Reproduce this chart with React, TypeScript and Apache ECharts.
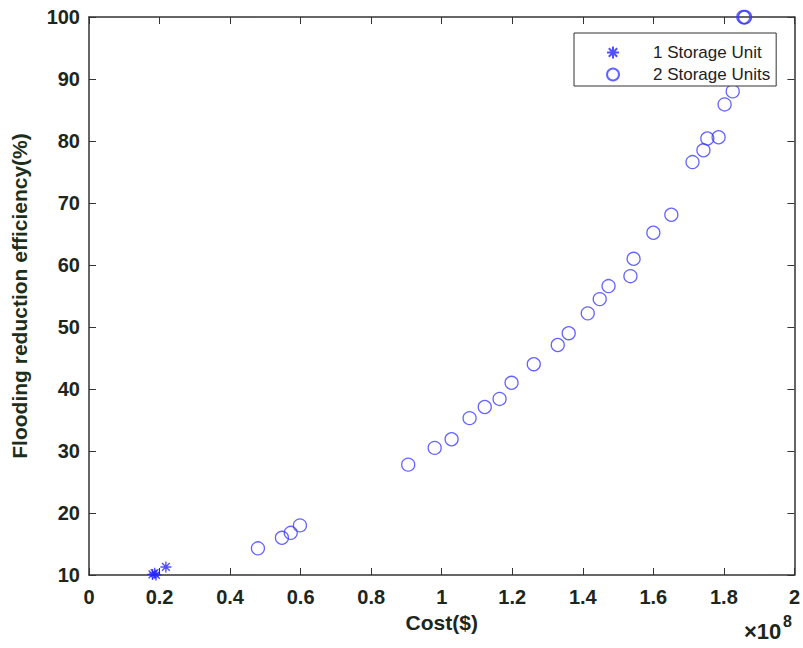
import React, { useEffect, useRef } from "react";
import * as echarts from "echarts";

const oneUnitCost: number[] = [0.18, 0.186, 0.19, 0.218];
const oneUnitEff: number[] = [10.1, 10.3, 10.0, 11.3];

const twoUnitCost: number[] = [
  0.479, 0.547, 0.572, 0.598, 0.905, 0.98, 1.028, 1.079, 1.122, 1.164, 1.198,
  1.261, 1.329, 1.36, 1.414, 1.448, 1.473, 1.535, 1.544, 1.6, 1.651, 1.711,
  1.742, 1.753, 1.785, 1.802, 1.825, 1.855, 1.858, 1.86,
];
const twoUnitEff: number[] = [
  14.3, 16.0, 16.8, 18.0, 27.8, 30.5, 31.9, 35.3, 37.1, 38.4, 41.0, 44.0, 47.1,
  49.0, 52.2, 54.5, 56.6, 58.2, 61.0, 65.2, 68.1, 76.6, 78.5, 80.4, 80.6, 85.9,
  88.0, 100, 99.9, 100,
];

const seriesNames: string[] = ["1 Storage Unit", "2 Storage Units"];
const xTicks = { min: 0, max: 2, interval: 0.2 };
const yTicks = { min: 10, max: 100, interval: 10 };

const STAR =
  "path://M5,0 L5,10 M0,5 L10,5 M1.5,1.5 L8.5,8.5 M1.5,8.5 L8.5,1.5";

export default function App() {
  const ref = useRef<HTMLDivElement>(null);
  useEffect(() => {
    if (!ref.current) return;
    const chart = echarts.init(ref.current, null, { renderer: "svg" });
    const font = "Liberation Sans, Arial, sans-serif";
    const labelColor = "#1c261c";
    const axisLine = { show: true, onZero: false, lineStyle: { color: "#333", width: 1.5 } };
    const tickIn = { show: true, inside: true, length: 7, lineStyle: { color: "#333", width: 1 } };
    const fmt = (v: number) => String(Number(v.toFixed(1)));
    chart.setOption({
      animation: false,
      backgroundColor: "#fff",
      grid: { left: 89, right: 8, top: 17, bottom: 73, containLabel: false },
      legend: {
        left: 574,
        top: 33,
        align: "left",
        orient: "vertical",
        backgroundColor: "#fff",
        borderColor: "#333",
        borderWidth: 1,
        borderRadius: 0,
        padding: [11, 6, 3, 32],
        itemWidth: 70,
        itemHeight: 12,
        itemGap: 5,
        textStyle: { fontFamily: font, fontSize: 17, color: "#222" },
        data: seriesNames,
      },
      xAxis: [
        {
          type: "value",
          ...xTicks,
          name: "Cost($)",
          nameLocation: "middle",
          nameGap: 36,
          nameTextStyle: { fontFamily: font, fontSize: 21, fontWeight: "bold", color: labelColor },
          axisLine,
          axisTick: tickIn,
          splitLine: { show: false },
          axisLabel: {
            formatter: fmt,
            margin: 12,
            fontFamily: font,
            fontSize: 20,
            fontWeight: "bold",
            color: labelColor,
          },
        },
        {
          type: "value",
          ...xTicks,
          position: "top",
          axisLine,
          axisTick: tickIn,
          splitLine: { show: false },
          axisLabel: { show: false },
        },
      ],
      yAxis: [
        {
          type: "value",
          ...yTicks,
          name: "Flooding reduction efficiency(%)",
          nameLocation: "middle",
          nameGap: 59,
          nameTextStyle: { fontFamily: font, fontSize: 21, fontWeight: "bold", color: "#1c2e1c" },
          axisLine,
          axisTick: tickIn,
          splitLine: { show: false },
          axisLabel: {
            margin: 9,
            fontFamily: font,
            fontSize: 20,
            fontWeight: "bold",
            color: labelColor,
          },
        },
        {
          type: "value",
          ...yTicks,
          position: "right",
          axisLine,
          axisTick: tickIn,
          splitLine: { show: false },
          axisLabel: { show: false },
        },
      ],
      graphic: [
        {
          type: "text",
          left: 744,
          top: 620,
          style: { text: "×10", fontFamily: font, fontSize: 22, fontWeight: "bold", fill: labelColor },
        },
        {
          type: "text",
          left: 783,
          top: 613,
          style: { text: "8", fontFamily: font, fontSize: 16, fontWeight: "bold", fill: labelColor },
        },
      ],
      series: [
        {
          name: seriesNames[0],
          type: "scatter",
          clip: false,
          symbol: STAR,
          symbolSize: 11,
          itemStyle: { color: "rgba(0,0,0,0)", borderColor: "#2424ff", borderWidth: 1.4 },
          data: oneUnitCost.map((c, i) => [c, oneUnitEff[i]]),
        },
        {
          name: seriesNames[1],
          type: "scatter",
          clip: false,
          symbol: "circle",
          symbolSize: 13,
          itemStyle: { color: "rgba(0,0,0,0)", borderColor: "#3c3cff", borderWidth: 1.3 },
          data: twoUnitCost.map((c, i) => [c, twoUnitEff[i]]),
        },
      ],
    });
    return () => chart.dispose();
  }, []);
  return (
    <div
      ref={ref}
      style={{ position: "fixed", left: 0, top: 0, width: 803, height: 648 }}
    />
  );
}
